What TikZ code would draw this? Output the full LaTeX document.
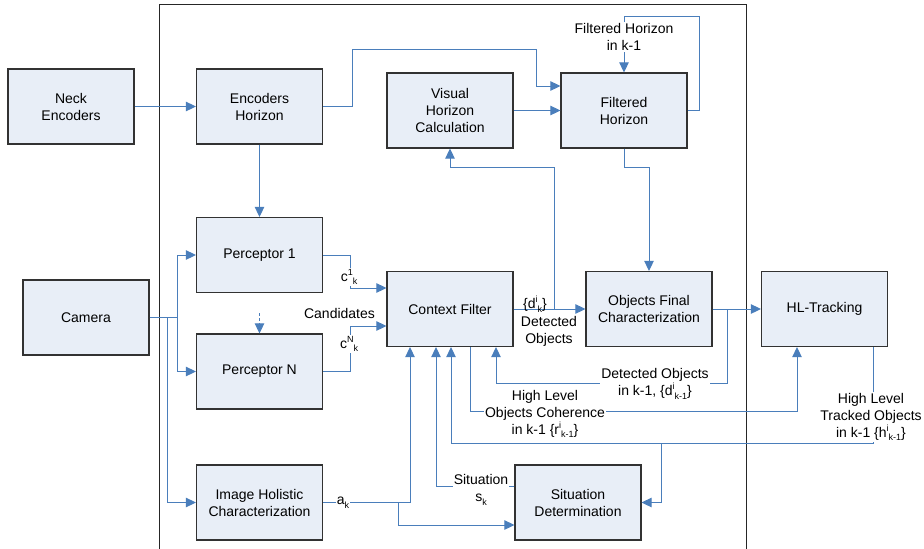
\documentclass[tikz,border=0pt]{standalone}
\usepackage{fontspec}
\setmainfont{Liberation Sans}
\usetikzlibrary{arrows.meta}
\definecolor{boxfill}{RGB}{232,238,247}
\definecolor{boxline}{RGB}{50,50,50}
\definecolor{wireblue}{RGB}{74,126,187}
\newcommand\upidx[1]{\raisebox{0.8ex}{\fontsize{9}{9}\selectfont #1}}
\newcommand\loidx[1]{\raisebox{-0.5ex}{\fontsize{9}{9}\selectfont #1}}
\begin{document}
\begin{tikzpicture}[x=1pt,y=-1pt,
  blk/.style={draw=boxline, line width=1.2pt, fill=boxfill, minimum width=126pt, minimum height=75pt, align=center, inner sep=2pt, font=\fontsize{14}{17}\selectfont},
  conn/.style={draw=wireblue, line width=1pt},
  arr/.style={conn, -{Triangle[length=10pt,width=9.5pt]}},
  lbl/.style={fill=white, align=center, inner sep=1pt, font=\fontsize{14}{17}\selectfont},
  ]
\useasboundingbox (0,0) rectangle (924,549);
\draw[line width=0.9pt, black!85] (159,4) rectangle (746,570);

% boxes
\node[blk] (neck) at (71,106.5) {Neck\\Encoders};
\node[blk] (ench) at (259.5,106.5) {Encoders\\Horizon};
\node[blk] (vis)  at (450,110.5) {Visual\\Horizon\\Calculation};
\node[blk] (filt) at (624,110.5) {Filtered\\Horizon};
\node[blk] (p1)   at (259.5,255) {Perceptor 1};
\node[blk] (cam)  at (86,317.5) {Camera};
\node[blk] (ctx)  at (450,309) {Context Filter};
\node[blk] (pN)   at (259.5,371.5) {Perceptor N};
\node[blk] (img)  at (259.5,502.5) {Image Holistic\\Characterization};
\node[blk] (sit)  at (578,502.5) {Situation\\Determination};
\node[blk] (ofc)  at (649,309) {Objects Final\\Characterization};
\node[blk] (hl)   at (824.5,309) {HL-Tracking};

% connectors
\draw[arr] (neck.east) -- (ench.west);
\draw[arr] (ench.east) -- (352,106.5) -- (352,49) -- (536,49) -- (536,86) -- ([yshift=24.5pt]filt.west);
\draw[arr] (vis.east) -- (filt.west);
\draw[arr] (filt.east) -- (699,110.5) -- (699,16) -- (624,16) -- (filt.north);
\draw[arr] (filt.south) |- (649,167) -- (ofc.north);
\draw[arr] (ctx.east) -- (ofc.west);
\coordinate (dk) at (554,309);
\draw[arr] (dk) -- (554,167) -- (450,167) -- (vis.south);
\draw[arr] (ench.south) -- (p1.north);
\coordinate (camj) at (177,317.5);
\coordinate (camk) at (167,317.5);
\draw[conn] (cam.east) -- (camj);
\draw[arr] (camj) |- (p1.west);
\draw[arr] (camj) |- (pN.west);
\draw[arr] (camk) |- (img.west);
\coordinate (dashs) at (259.5,313);
\draw[arr, dash pattern=on 3pt off 2pt] (dashs) -- (pN.north);
\draw[arr] (p1.east) -- (350,255) |- ([yshift=21pt]ctx.west);
\draw[arr] (pN.east) -- (350,371.5) |- ([yshift=-17pt]ctx.west);
\draw[arr] (ofc.east) -- (hl.west);
\coordinate (oj) at (727,309);
\draw[arr] (oj) -- (727,383) -| ([xshift=46pt]ctx.south);
\draw[arr] ([xshift=20pt]ctx.south) |- (797,411) -- ([xshift=-27.5pt]hl.south);
\draw[arr] ([xshift=48.5pt]hl.south) |- (451,443) -- ([xshift=1pt]ctx.south);
\coordinate (hj) at (661,443);
\draw[arr] (hj) |- (sit.east);
\draw[arr] (img.east) -| ([xshift=-40pt]ctx.south);
\coordinate (aj) at (398,502.5);
\draw[arr] (aj) |- ([yshift=-22.5pt]sit.west);
\draw[arr] ([yshift=16.5pt]sit.west) -| ([xshift=-14pt]ctx.south);

% labels
\node[lbl] (lfh) at (624,37) {Filtered Horizon\\in k-1};
\node[lbl] (lc1) at (349,277) {c\upidx{1}\loidx{k}};
\node[lbl, fill=none] (lcand) at (339.5,313) {Candidates};
\node[lbl] (lcN) at (349,344) {c\upidx{N}\loidx{k}};
\node[lbl, fill=none] (ldk) at (535,304) {\{d\upidx{i}\loidx{k}\}};
\node[lbl, fill=none] (ldo) at (549,331) {Detected\\Objects};
\node[lbl] (ldk1) at (655,384) {Detected Objects\\in k-1, \{d\upidx{i}\loidx{k-1}\}};
\node[lbl] (lrk1) at (545,414) {High Level\\Objects Coherence\\in k-1 \{r\upidx{i}\loidx{k-1}\}};
\node[lbl] (lhk1) at (871,417) {High Level\\Tracked Objects\\in k-1 \{h\upidx{i}\loidx{k-1}\}};
\node[lbl] (lak) at (343,503) {a\loidx{k}};
\node[lbl] (lsk) at (481,490) {Situation\\s\loidx{k}};
\end{tikzpicture}
\end{document}
